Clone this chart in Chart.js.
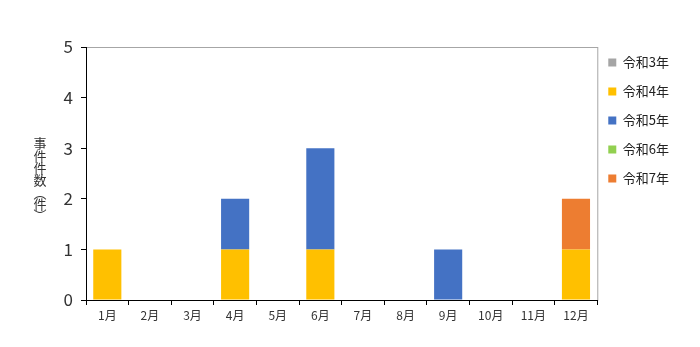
<!DOCTYPE html>
<html>
<head>
<meta charset="utf-8">
<script src="https://cdn.jsdelivr.net/npm/chart.js@4"></script>
<style>
  body { margin: 0; background: #fff; }
  #wrap { width: 700px; height: 347px; }
</style>
</head>
<body>
<div id="wrap"><canvas id="caseChart" width="700" height="347"></canvas></div>
<script>
// months on the x axis
const months = ['1月', '2月', '3月', '4月', '5月', '6月', '7月', '8月', '9月', '10月', '11月', '12月'];
// counts per month, one list per year
const r3 = [0, 0, 0, 0, 0, 0, 0, 0, 0, 0, 0, 0];
const r4 = [1, 0, 0, 1, 0, 1, 0, 0, 0, 0, 0, 1];
const r5 = [0, 0, 0, 1, 0, 2, 0, 0, 1, 0, 0, 0];
const r6 = [0, 0, 0, 0, 0, 0, 0, 0, 0, 0, 0, 0];
const r7 = [0, 0, 0, 0, 0, 0, 0, 0, 0, 0, 0, 1];
const yTicks = [0, 1, 2, 3, 4, 5];
const yTitle = ['事', '件', '件', '数', '︵', '件', '︶'];

const fontFamily = '"Liberation Sans Narrow", "Noto Sans CJK JP", sans-serif';

// gray box round the plot area, drawn first so the black axes sit on top
const plotBorder = {
    id: 'plotBorder',
    beforeDraw(chart) {
        const a = chart.chartArea;
        const ctx = chart.ctx;
        ctx.save();
        ctx.strokeStyle = '#a6a6a6';
        ctx.lineWidth = 1;
        ctx.strokeRect(a.left + 0.5, a.top + 0.5, a.right - a.left, a.bottom - a.top);
        ctx.restore();
    }
};

// nudge the legend up and left a little
const legendShift = {
    id: 'legendShift',
    afterLayout(chart) {
        chart.legend.top -= 7;
        chart.legend.left -= 5;
    }
};

// y axis title written top to bottom, upright
const verticalTitle = {
    id: 'verticalTitle',
    afterDraw(chart) {
        const ctx = chart.ctx;
        ctx.save();
        ctx.fillStyle = '#333';
        ctx.font = '13px "Noto Sans CJK JP", sans-serif';
        ctx.textAlign = 'center';
        ctx.textBaseline = 'middle';
        const ys = [143, 156, 168, 180, 193, 204, 215];
        yTitle.forEach((ch, i) => ctx.fillText(ch, 40, ys[i]));
        ctx.restore();
    }
};

const colors = ['#a5a5a5', '#ffc000', '#4472c4', '#92d050', '#ed7d31'];
const labels = ['令和3年', '令和4年', '令和5年', '令和6年', '令和7年'];
const series = [r3, r4, r5, r6, r7];

const ctx = document.getElementById('caseChart').getContext('2d');
const caseChart = new Chart(ctx, {
    type: 'bar',
    data: {
        labels: months,
        datasets: series.map((s, i) => ({
            label: labels[i],
            data: s,
            backgroundColor: colors[i],
            borderWidth: 0,
            barPercentage: 0.66,
            categoryPercentage: 1
        }))
    },
    options: {
        responsive: false,
        animation: false,
        layout: { padding: { left: 0, top: 47, right: 16, bottom: 0 } },
        plugins: {
            legend: {
                position: 'right',
                align: 'start',
                labels: {
                    boxWidth: 8,
                    boxHeight: 8,
                    padding: 16,
                    color: '#222',
                    font: { family: fontFamily, size: 13 }
                }
            },
            tooltip: { enabled: false }
        },
        scales: {
            x: {
                stacked: true,
                offset: true,
                grid: {
                    offset: true,
                    drawOnChartArea: false,
                    color: '#000',
                    tickLength: 5
                },
                border: { color: '#000', width: 1 },
                ticks: {
                    color: '#333',
                    padding: 3,
                    maxRotation: 0,
                    font: { family: fontFamily, size: 12 }
                },
                afterFit(axis) { axis.height = 47; }
            },
            y: {
                stacked: true,
                min: 0,
                max: 5,
                afterBuildTicks(axis) { axis.ticks = yTicks.map(v => ({ value: v })); },
                grid: {
                    drawOnChartArea: false,
                    color: '#000',
                    tickLength: 5
                },
                border: { color: '#000', width: 1 },
                ticks: {
                    color: '#333',
                    padding: 8,
                    font: { family: fontFamily, size: 17 }
                },
                afterFit(axis) { axis.width = 86; }
            }
        }
    },
    plugins: [plotBorder, legendShift, verticalTitle]
});
</script>
</body>
</html>
